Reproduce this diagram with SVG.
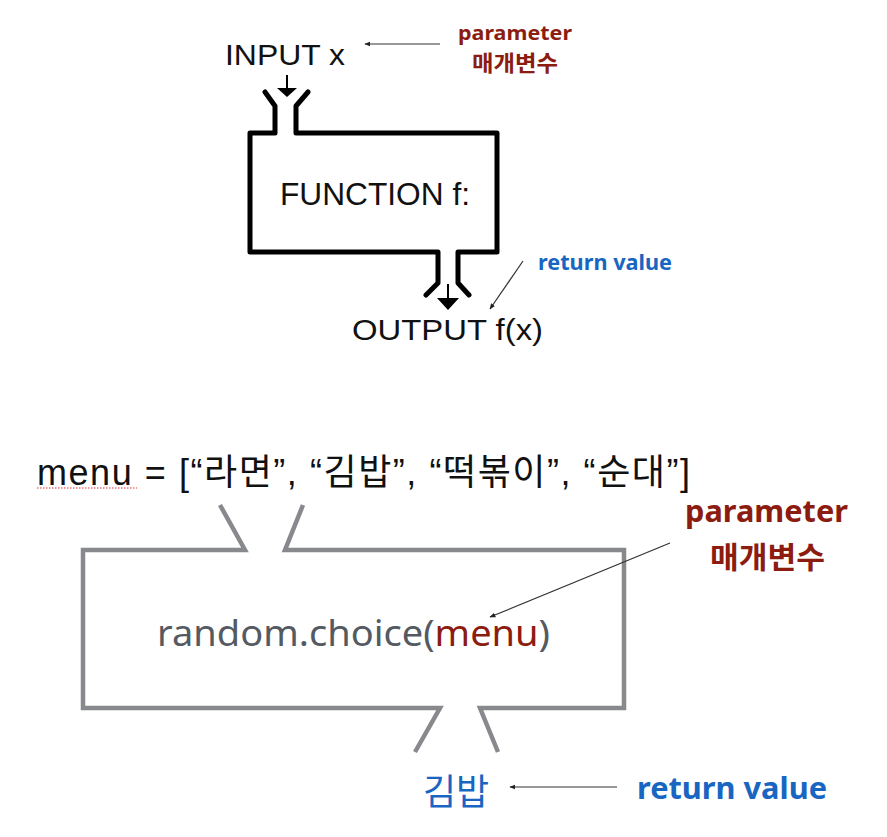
<svg xmlns="http://www.w3.org/2000/svg" width="887" height="837" viewBox="0 0 887 837">
<defs>
<marker id="ah" viewBox="0 0 10 10" refX="9" refY="5" markerWidth="6" markerHeight="6" markerUnits="userSpaceOnUse" orient="auto">
<path d="M0,1 L10,5 L0,9 z" fill="#222"/>
</marker>
<style>
.blk{fill:none;stroke:#000;stroke-width:5;stroke-linejoin:round;stroke-linecap:round}
.gry{fill:none;stroke:#88898d;stroke-width:4.5;stroke-linejoin:miter}
.thin{fill:none;stroke:#333;stroke-width:1.2}
.lbl{font-family:"Liberation Sans","Noto Sans CJK KR",sans-serif;fill:#111}
.red{font-family:"Noto Sans","Noto Sans CJK KR",sans-serif;font-weight:bold;fill:#8c1c10}
.blue{font-family:"Noto Sans","Noto Sans CJK KR",sans-serif;font-weight:bold;fill:#1866c2}
.kr{font-family:"Noto Sans","Noto Sans CJK KR",sans-serif}
</style>
</defs>
<rect width="887" height="837" fill="#fff"/>

<g id="function-box">
<path class="blk" d="M265,92 L275,106 L275,133 L250,133 L250,252 L438,252 L438,283 L426,295"/>
<path class="blk" d="M308,92 L296,106 L296,133 L497,133 L497,252 L458,252 L458,283 L469,295"/>
<text class="lbl" x="280" y="205" font-size="31" textLength="190" lengthAdjust="spacingAndGlyphs">FUNCTION f:</text>
</g>

<g id="input">
<text class="lbl" x="225" y="65" font-size="30" textLength="120" lengthAdjust="spacingAndGlyphs">INPUT x</text>
</g>

<g id="output">
<text class="lbl" x="352" y="340" font-size="30" textLength="191" lengthAdjust="spacingAndGlyphs">OUTPUT f(x)</text>
</g>

<g id="param-top">
<text class="red" x="458" y="40" font-size="20" textLength="114" lengthAdjust="spacingAndGlyphs">parameter</text>
<text class="red" x="472" y="71" font-size="22" textLength="86" lengthAdjust="spacingAndGlyphs">매개변수</text>
</g>

<g id="return-top">
<text class="blue" x="538" y="270" font-size="21" textLength="134" lengthAdjust="spacingAndGlyphs">return value</text>
</g>

<g id="menu">
<text class="lbl" x="37" y="485" font-size="36" textLength="653" lengthAdjust="spacing">menu = [“라면”, “김밥”, “떡볶이”, “순대”]</text>
<line x1="37" y1="488" x2="137" y2="488" stroke="#e03030" stroke-width="1.2" stroke-dasharray="1.5,1.5"/>
</g>

<g id="choice-box">
<path class="gry" d="M220,505 L245,550 L83,550 L83,708 L440,708 L415,752"/>
<path class="gry" d="M303,505 L285,550 L624,550 L624,708 L480,708 L498,752"/>
<text class="kr" x="157" y="646" font-size="37" fill="#545a62" textLength="393" lengthAdjust="spacingAndGlyphs">random.choice(<tspan fill="#8c1c10">menu</tspan>)</text>
</g>

<g id="param-bottom">
<text class="red" x="685" y="522" font-size="30" textLength="163" lengthAdjust="spacingAndGlyphs">parameter</text>
<text class="red" x="710" y="568" font-size="30" textLength="115" lengthAdjust="spacingAndGlyphs">매개변수</text>
</g>

<g id="result">
<text class="kr" x="423" y="805" font-size="36" fill="#1866c2">김밥</text>
</g>

<g id="return-bottom">
<text class="blue" x="637" y="799" font-size="30" textLength="190" lengthAdjust="spacingAndGlyphs">return value</text>
</g>

<g id="connectors">
<line x1="287" y1="75" x2="287" y2="90" stroke="#000" stroke-width="2"/>
<path d="M277,88 L297,88 L287,97 z" fill="#000"/>
<line x1="448" y1="284" x2="448" y2="300" stroke="#000" stroke-width="2"/>
<path d="M437,298 L459,298 L448,310 z" fill="#000"/>
<line class="thin" x1="440" y1="44" x2="365" y2="44" marker-end="url(#ah)"/>
<line class="thin" x1="523" y1="261" x2="490" y2="309" marker-end="url(#ah)"/>
<line class="thin" x1="670" y1="543" x2="490" y2="617" marker-end="url(#ah)"/>
<line class="thin" x1="617" y1="787" x2="510" y2="787" marker-end="url(#ah)"/>
</g>
</svg>
